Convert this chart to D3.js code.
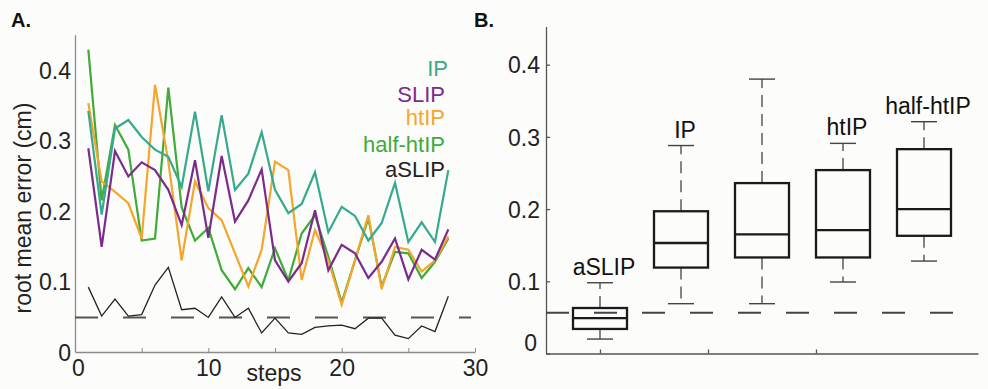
<!DOCTYPE html>
<html>
<head>
<meta charset="utf-8">
<script src="https://cdnjs.cloudflare.com/ajax/libs/d3/7.8.5/d3.min.js"></script>
<style>
  body { margin: 0; background: #fcfcfa; }
  svg { display: block; font-family: "Liberation Sans", Arial, sans-serif; }
  .tick text { font-size: 23px; fill: #222; }
</style>
</head>
<body>
<div id="chart"></div>
<script>
// panel A: error per step
var steps = [1, 2, 3, 4, 5, 6, 7, 8, 9, 10, 11, 12, 13, 14, 15, 16, 17, 18, 19, 20, 21, 22, 23, 24, 25, 26, 27, 28];
var ipErr = [0.342, 0.195, 0.317, 0.329, 0.305, 0.287, 0.277, 0.234, 0.341, 0.228, 0.336, 0.23, 0.253, 0.312, 0.23, 0.197, 0.21, 0.255, 0.17, 0.206, 0.193, 0.158, 0.183, 0.24, 0.156, 0.184, 0.156, 0.258];
var slipErr = [0.289, 0.149, 0.285, 0.249, 0.269, 0.258, 0.23, 0.18, 0.272, 0.162, 0.278, 0.185, 0.215, 0.259, 0.13, 0.1, 0.126, 0.201, 0.116, 0.152, 0.14, 0.105, 0.128, 0.161, 0.103, 0.145, 0.131, 0.174];
var htipErr = [0.353, 0.242, 0.227, 0.211, 0.161, 0.379, 0.27, 0.13, 0.242, 0.204, 0.187, 0.14, 0.093, 0.145, 0.27, 0.258, 0.102, 0.173, 0.13, 0.067, 0.13, 0.194, 0.09, 0.149, 0.145, 0.114, 0.13, 0.164];
var halfHtipErr = [0.429, 0.215, 0.322, 0.287, 0.158, 0.161, 0.375, 0.205, 0.158, 0.176, 0.116, 0.089, 0.119, 0.092, 0.147, 0.102, 0.168, 0.194, 0.135, 0.07, 0.13, 0.19, 0.093, 0.142, 0.14, 0.105, 0.128, 0.161];
var aslipErr = [0.092, 0.051, 0.075, 0.051, 0.053, 0.095, 0.12, 0.06, 0.062, 0.049, 0.078, 0.049, 0.062, 0.027, 0.048, 0.027, 0.025, 0.035, 0.037, 0.038, 0.033, 0.048, 0.048, 0.024, 0.019, 0.037, 0.029, 0.079];
var thresholdA = 0.049;

var seriesNames = ["IP", "SLIP", "htIP", "half-htIP", "aSLIP"];
var seriesColors = ["#36a98f", "#7b2b8b", "#f5a52c", "#3fab3a", "#222"];

// panel B: box stats
var boxNames = ["aSLIP", "IP", "SLIP", "htIP", "half-htIP"];
var boxLabels = ["aSLIP", "IP", "", "htIP", "half-htIP"];
var whiskerLow = [0.02, 0.069, 0.069, 0.099, 0.128];
var q1 = [0.034, 0.119, 0.133, 0.133, 0.163];
var median = [0.049, 0.153, 0.165, 0.171, 0.2];
var q3 = [0.063, 0.197, 0.236, 0.254, 0.283];
var whiskerHigh = [0.098, 0.288, 0.38, 0.291, 0.321];
var thresholdB = 0.0565;

var yTicks = [0, 0.1, 0.2, 0.3, 0.4];
var xTicksA = [0, 5, 10, 15, 20, 25, 30];

var svg = d3
  .select("#chart")
  .append("svg")
  .attr("width", 988)
  .attr("height", 389);

//panel letters
svg.append("text").text("A.").attr("x", 11).attr("y", 27)
  .style("font-size", "20px").style("font-weight", "bold").attr("fill", "#111");
svg.append("text").text("B.").attr("x", 474).attr("y", 27)
  .style("font-size", "20px").style("font-weight", "bold").attr("fill", "#111");

// ---------- panel A ----------
var xA = d3.scaleLinear().domain([0, 30]).range([75, 475]);
var yA = d3.scaleLinear().domain([0, 0.45]).range([352, 34.75]);

var xAxisA = d3
  .axisBottom(xA)
  .tickValues(xTicksA)
  .tickSizeInner(-4)
  .tickSizeOuter(0)
  .tickPadding(8)
  .tickFormat(function(d) {
    return d % 10 === 0 ? d : "";
  });

var gxA = svg
  .append("g")
  .attr("transform", "translate(0," + yA(0) + ")")
  .call(xAxisA);

var yAxisA = d3
  .axisLeft(yA)
  .tickValues(yTicks)
  .tickSize(0)
  .tickPadding(4)
  .tickFormat(function(d) {
    return d === 0 ? "0" : d3.format(".1f")(d);
  });

var gyA = svg
  .append("g")
  .attr("transform", "translate(" + xA(0) + ",0)")
  .call(yAxisA);

[gxA, gyA].forEach(function(g) {
  g.selectAll(".domain").attr("stroke", "#8c8c8c").attr("stroke-width", 1.3);
  g.selectAll(".tick line").attr("stroke", "#8c8c8c");
});
gyA.selectAll(".tick text").attr("dy", "0.36em");
gxA.selectAll(".tick text")
  .filter(function(d) { return d === 0; })
  .attr("x", 3);

//axis labels
svg.append("text")
  .text("steps")
  .attr("x", 274)
  .attr("y", 381)
  .attr("text-anchor", "middle")
  .style("font-size", "23px")
  .attr("fill", "#222");

svg.append("text")
  .text("root mean error (cm)")
  .attr("transform", "translate(31,208) rotate(-90)")
  .attr("text-anchor", "middle")
  .style("font-size", "23px")
  .attr("fill", "#222");

//threshold dashed line
svg.append("line")
  .attr("x1", xA(0))
  .attr("x2", xA(29.7))
  .attr("y1", yA(thresholdA))
  .attr("y2", yA(thresholdA))
  .attr("stroke", "#555")
  .attr("stroke-width", 2)
  .attr("stroke-dasharray", "23,25");

var line = d3
  .line()
  .x(function(d, i) { return xA(steps[i]); })
  .y(function(d) { return yA(d); });

//draw order: half-htIP, htIP, IP, SLIP, aSLIP
var drawOrder = [
  { vals: halfHtipErr, idx: 3 },
  { vals: htipErr, idx: 2 },
  { vals: ipErr, idx: 0 },
  { vals: slipErr, idx: 1 },
  { vals: aslipErr, idx: 4 }
];

drawOrder.forEach(function(s) {
  svg.append("path")
    .datum(s.vals)
    .attr("d", line)
    .attr("fill", "none")
    .attr("stroke", seriesColors[s.idx])
    .attr("stroke-width", s.idx === 4 ? 1.3 : 2.2)
    .attr("stroke-linejoin", "miter");
});

//legend text
var legendY = [76, 102, 125, 152, 177];
var legendX = [448, 445, 445, 445, 445];
svg.append("g")
  .selectAll("text")
  .data(seriesNames)
  .enter()
  .append("text")
  .text(function(d) { return d; })
  .attr("x", function(d, i) { return legendX[i]; })
  .attr("y", function(d, i) { return legendY[i]; })
  .attr("text-anchor", "end")
  .style("font-size", "22px")
  .attr("fill", function(d, i) { return seriesColors[i]; });

// ---------- panel B ----------
var xB = d3.scaleLinear().domain([1 - 54 / 81, 5 + 54 / 81]).range([546, 978]);
var yB = d3.scaleLinear().domain([0, 0.453]).range([353.5, 26.4]);

var xAxisB = d3
  .axisBottom(xB)
  .tickValues([1, 7 / 3, 11 / 3])
  .tickSizeInner(-4)
  .tickSizeOuter(0)
  .tickFormat("");

var gxB = svg.append("g")
  .attr("transform", "translate(0," + yB(0) + ")")
  .call(xAxisB);

var yAxisB = d3
  .axisLeft(yB)
  .tickValues(yTicks)
  .tickSizeInner(-4)
  .tickSizeOuter(0)
  .tickPadding(6)
  .tickFormat(function(d) {
    return d === 0 ? "0" : d3.format(".1f")(d);
  });

var gyB = svg.append("g")
  .attr("transform", "translate(" + xB.range()[0] + ",0)")
  .call(yAxisB);

[gxB, gyB].forEach(function(g) {
  g.selectAll(".domain").attr("stroke", "#555").attr("stroke-width", 1.3);
  g.selectAll(".tick line").attr("stroke", "#555").attr("stroke-width", 1.3);
});
gyB.selectAll(".tick text").attr("dy", "0.36em");
//zero label sits a bit higher in the original
gyB.selectAll(".tick text")
  .filter(function(d) { return d === 0; })
  .attr("y", -11)
  .attr("x", -9);

//threshold dashed line
svg.append("line")
  .attr("x1", xB.range()[0])
  .attr("x2", 958)
  .attr("y1", yB(thresholdB))
  .attr("y2", yB(thresholdB))
  .attr("stroke", "#444")
  .attr("stroke-width", 2)
  .attr("stroke-dasharray", "23,25");

var boxW = 54;
var capW = 26;

var boxes = svg.append("g")
  .selectAll("g")
  .data(boxNames)
  .enter()
  .append("g")
  .attr("transform", function(d, i) {
    return "translate(" + xB(i + 1) + ",0)";
  });

//whiskers
boxes.append("line")
  .attr("y1", function(d, i) { return yB(q3[i]); })
  .attr("y2", function(d, i) { return yB(whiskerHigh[i]); })
  .attr("stroke", "#444")
  .attr("stroke-width", 1.3)
  .attr("stroke-dasharray", "12,7");
boxes.append("line")
  .attr("y1", function(d, i) { return yB(q1[i]); })
  .attr("y2", function(d, i) { return yB(whiskerLow[i]); })
  .attr("stroke", "#444")
  .attr("stroke-width", 1.3)
  .attr("stroke-dasharray", "12,7");

//caps
boxes.append("line")
  .attr("x1", -capW / 2).attr("x2", capW / 2)
  .attr("y1", function(d, i) { return yB(whiskerHigh[i]); })
  .attr("y2", function(d, i) { return yB(whiskerHigh[i]); })
  .attr("stroke", "#444")
  .attr("stroke-width", 1.4);
boxes.append("line")
  .attr("x1", -capW / 2).attr("x2", capW / 2)
  .attr("y1", function(d, i) { return yB(whiskerLow[i]); })
  .attr("y2", function(d, i) { return yB(whiskerLow[i]); })
  .attr("stroke", "#444")
  .attr("stroke-width", 1.4);

//box
boxes.append("rect")
  .attr("x", -boxW / 2)
  .attr("width", boxW)
  .attr("y", function(d, i) { return yB(q3[i]); })
  .attr("height", function(d, i) { return yB(q1[i]) - yB(q3[i]); })
  .attr("fill", "none")
  .attr("stroke", "#1a1a1a")
  .attr("stroke-width", 2.3);

//median
boxes.append("line")
  .attr("x1", -boxW / 2).attr("x2", boxW / 2)
  .attr("y1", function(d, i) { return yB(median[i]); })
  .attr("y2", function(d, i) { return yB(median[i]); })
  .attr("stroke", "#1a1a1a")
  .attr("stroke-width", 2.3);

//labels above whiskers
boxes.append("text")
  .text(function(d, i) { return boxLabels[i]; })
  .attr("x", 4)
  .attr("y", function(d, i) { return yB(whiskerHigh[i]) - 8; })
  .attr("text-anchor", "middle")
  .style("font-size", "23px")
  .attr("fill", "#111");
</script>
</body>
</html>
